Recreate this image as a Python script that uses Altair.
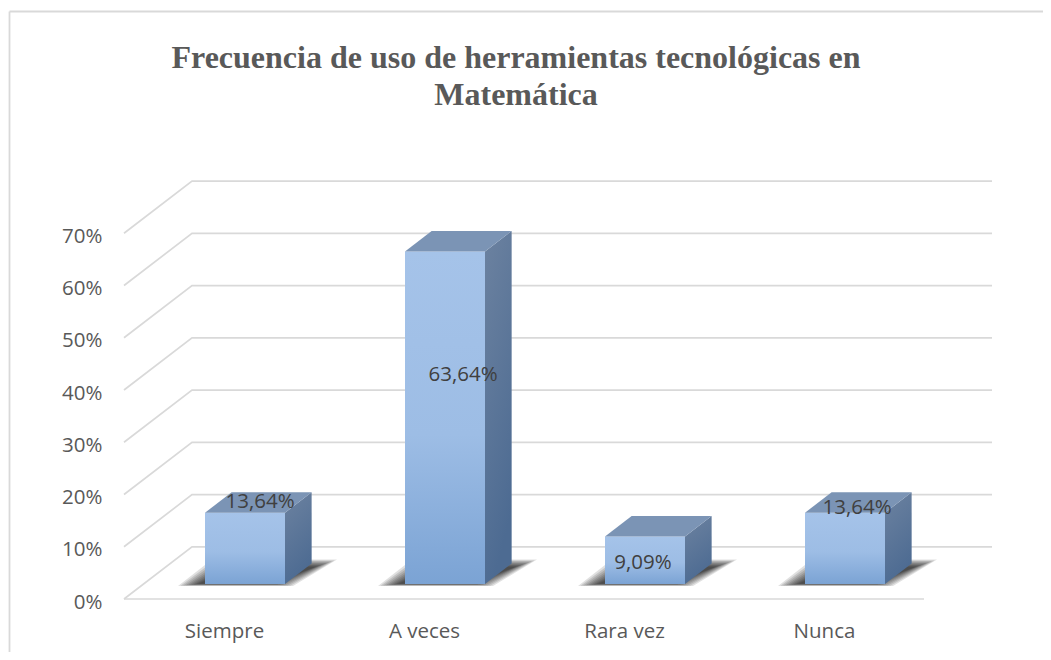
import altair as alt
import pandas as pd

categories = ["Siempre", "A veces", "Rara vez", "Nunca"]
values = [13.64, 63.64, 9.09, 13.64]
value_labels = ["13,64%", "63,64%", "9,09%", "13,64%"]
y_ticks = [0, 10, 20, 30, 40, 50, 60, 70]
title_text = "Frecuencia de uso de herramientas tecnológicas en\nMatemática"

# placement of the hand-moved labels, in pixels from the bar's top-centre
label_dx = [15, 18, -2, 12]
label_dy = [-11, 124, 27, -5]

# layout: plot-area pixels and the oblique projection
PX_X, PX_Y = 200.0, 5.225     # pixels per category, per percent
LEFT, TOP = 124, 182
WIDTH, HEIGHT = 868, 417
DX, DY = 0.34, 9.98           # back wall shift of the floor, in data units
Z0, Z1 = 0.288, 0.68          # depth span of a bar
BAR_LEFT, BAR_W = 0.405, 0.4
FONT = "Open Sans"
FS = 20.5

cat_expr = "[" + ",".join(f"'{c}'" for c in categories) + "][floor(datum.value)]"
x_axis = alt.Axis(values=[0.5, 1.5, 2.5, 3.5], labelExpr=cat_expr, title=None, domain=False, ticks=False,
                  grid=False, labelFont=FONT, labelFontSize=FS, labelColor="#595959", labelPadding=22,
                  labelOverlap=False)
y_axis = alt.Axis(values=y_ticks, labelExpr="datum.value + '%'", title=None, domain=False, ticks=False,
                  grid=False, labelFont=FONT, labelFontSize=FS, labelColor="#595959", labelPadding=22,
                  labelOffset=3, labelOverlap=False)
x_s = alt.Scale(domain=[0, WIDTH / PX_X], nice=False, zero=False)
y_s = alt.Scale(domain=[0, HEIGHT / PX_Y], nice=False, zero=False)
X = lambda f: alt.X(f, type="quantitative", scale=x_s, axis=x_axis)
Y = lambda f: alt.Y(f, type="quantitative", scale=y_s, axis=y_axis)

# gridlines: front-left corner -> back wall -> right end
grid_rows = []
for t in y_ticks:
    grid_rows += [
        {"t": t, "o": 0, "x": 0, "y": t},
        {"t": t, "o": 1, "x": DX, "y": t + DY},
        {"t": t, "o": 2, "x": 4 + DX, "y": t + DY},
    ]
grid = alt.Chart(pd.DataFrame(grid_rows)).mark_line(color="#d9d9d9", strokeWidth=1.7, clip=False).encode(
    x=X("x"), y=Y("y"), detail="t:N", order="o:Q")
floor_rows = [{"o": 0, "x": 0, "y": 0}, {"o": 1, "x": 4, "y": 0}]
floor = alt.Chart(pd.DataFrame(floor_rows)).mark_line(color="#d9d9d9", strokeWidth=1.7).encode(
    x=X("x"), y=Y("y"), order="o:Q")

# shadows: nested floor parallelograms standing in for the soft blur
SH_L, SH_R, SH_BACK_SHIFT, SH_BACK_R = 27 / PX_X, 8 / PX_X, 34 / PX_X, 44 / PX_X
SH_Y0, SH_Y1 = 13 / PX_Y, 39.5 / PX_Y
layers_shadow = []
for k in range(9):
    inset_x = k * 2.6 / PX_X
    inset_y = k * 0.9 / PX_Y
    rows = []
    for i in range(4):
        x0 = i + BAR_LEFT - SH_L + inset_x
        x1 = i + BAR_LEFT + BAR_W + SH_R - inset_x
        rows += [
            {"i": i, "y": SH_Y0 + inset_y * 0.3, "x": x0, "x2": x1},
            {"i": i, "y": SH_Y1 - inset_y, "x": x0 + SH_BACK_SHIFT, "x2": x1 + SH_BACK_R},
        ]
    layers_shadow.append(
        alt.Chart(pd.DataFrame(rows)).mark_area(orient="horizontal", color="#000000", opacity=0.12).encode(
            y=Y("y"), x=X("x"), x2="x2:Q", detail="i:N"))

# bar faces
front_rows, side_rows, top_rows = [], [], []
for i, v in enumerate(values):
    x0 = i + BAR_LEFT
    x1 = x0 + BAR_W
    y0 = Z0 * DY
    sx = DX * (Z1 - Z0)
    sy = DY * (Z1 - Z0)
    front_rows.append({"x": x0, "x2": x1, "y": y0, "y2": y0 + v})
    side_rows += [
        {"i": i, "x": x1, "y": y0, "y2": y0 + v},
        {"i": i, "x": x1 + sx, "y": y0 + sy, "y2": y0 + v + sy},
    ]
    top_rows += [
        {"i": i, "y": y0 + v, "x": x0, "x2": x1},
        {"i": i, "y": y0 + v + sy, "x": x0 + sx, "x2": x1 + sx},
    ]

front_grad = alt.Gradient(gradient="linear", x1=0, y1=0, x2=0, y2=1,
                          stops=[alt.GradientStop(color="#a5c3e9", offset=0),
                                 alt.GradientStop(color="#9dbde5", offset=0.55),
                                 alt.GradientStop(color="#7ba3d4", offset=1)])
side_grad = alt.Gradient(gradient="linear", x1=0, y1=0, x2=0.3, y2=1,
                         stops=[alt.GradientStop(color="#6c82a0", offset=0),
                                alt.GradientStop(color="#4d6b92", offset=1)])

front = alt.Chart(pd.DataFrame(front_rows)).mark_rect(color=front_grad).encode(
    x=X("x"), x2="x2:Q", y=Y("y"), y2="y2:Q")
side = alt.Chart(pd.DataFrame(side_rows)).mark_area(color=side_grad).encode(
    x=X("x"), y=Y("y"), y2="y2:Q", detail="i:N")
top = alt.Chart(pd.DataFrame(top_rows)).mark_area(orient="horizontal", color="#7b94b5").encode(
    y=Y("y"), x=X("x"), x2="x2:Q", detail="i:N")

# value labels
lab_rows = []
for i, v in enumerate(values):
    lab_rows.append({
        "text": value_labels[i],
        "x": i + BAR_LEFT + BAR_W / 2 + label_dx[i] / PX_X,
        "y": Z0 * DY + v - label_dy[i] / PX_Y,
    })
labels = alt.Chart(pd.DataFrame(lab_rows)).mark_text(
    font=FONT, fontSize=FS, color="#404040", align="center", baseline="middle").encode(
    x=X("x"), y=Y("y"), text="text:N")

# title, drawn in place
title = alt.Chart(pd.DataFrame({"t": [title_text]})).mark_text(
    font="Liberation Serif", fontSize=32, fontWeight="bold", color="#595959", align="center",
    baseline="alphabetic", lineBreak="\n", lineHeight=37).encode(
    x=alt.value(516 - LEFT), y=alt.value(68 - TOP), text="t:N")

# outer frame of the picture: only its top and left edges are in view
frame_top = alt.Chart(pd.DataFrame({"k": [0]})).mark_rule(color="#d9d9d9", strokeWidth=1.8).encode(
    x=alt.value(9.5 - LEFT), x2=alt.value(1043 - LEFT), y=alt.value(11.5 - TOP))
frame_left = alt.Chart(pd.DataFrame({"k": [0]})).mark_rule(color="#d9d9d9", strokeWidth=1.8).encode(
    x=alt.value(9.5 - LEFT), y=alt.value(11.5 - TOP), y2=alt.value(652 - TOP))

# the page's 8px margin counts towards the left and top offsets
chart = alt.layer(frame_top, frame_left, grid, floor, *layers_shadow, front, side, top, labels, title).properties(
    width=WIDTH, height=HEIGHT,
    padding={"left": LEFT - 8, "top": TOP - 8, "right": 1043 - LEFT - WIDTH, "bottom": 652 - TOP - HEIGHT},
    autosize=alt.AutoSizeParams(type="none"),
    background="white",
).configure_view(stroke=None)

chart.save("out.html", embed_options={"renderer": "svg", "actions": False})
